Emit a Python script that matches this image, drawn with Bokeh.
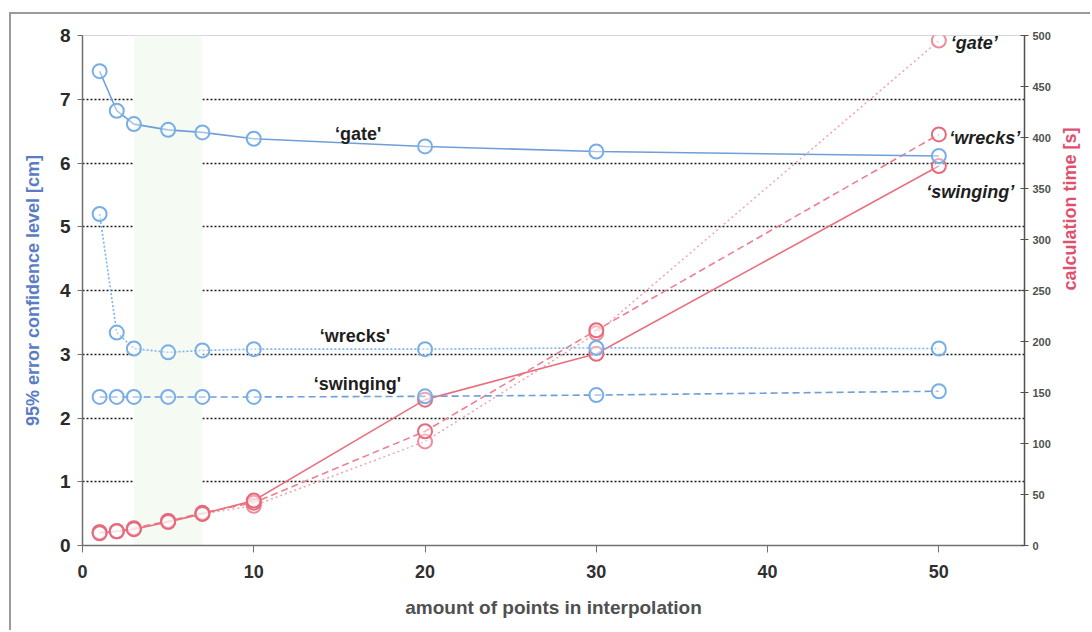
import math
from bokeh.plotting import figure
from bokeh.models import LinearAxis, Range1d, FixedTicker, BoxAnnotation, Label, Grid
from bokeh.embed import file_html
from bokeh.resources import INLINE

# ---- data ----
x_points = [1, 2, 3, 5, 7, 10, 20, 30, 50]
err_gate = [7.44, 6.82, 6.61, 6.52, 6.48, 6.38, 6.26, 6.18, 6.11]
err_wrecks = [5.20, 3.34, 3.09, 3.03, 3.06, 3.08, 3.08, 3.10, 3.09]
err_swinging = [2.33, 2.33, 2.33, 2.33, 2.33, 2.33, 2.34, 2.36, 2.42]
time_gate = [13, 14, 16, 24, 31, 39, 102, 208, 495]
time_wrecks = [13, 14, 17, 24, 32, 42, 112, 211, 403]
time_swinging = [12, 14, 16, 23, 31, 44, 143, 188, 372]

x_ticks = [0, 10, 20, 30, 40, 50]
err_ticks = [0, 1, 2, 3, 4, 5, 6, 7, 8]
time_ticks = [0, 50, 100, 150, 200, 250, 300, 350, 400, 450, 500]
grid_levels = [1, 2, 3, 4, 5, 6, 7]
band = (3, 7)

FONT = "Liberation Sans"
BLUE_LINE = "#6f9fd8"
BLUE_MARK = "#78aee6"
RED_LINE = "#e8707f"
RED_DASH = "#ec8090"
RED_DOT = "#f0a2ae"
RED_MARK = "#e66a7c"

p = figure(width=1081, height=618, output_backend="svg", toolbar_location=None,
           x_range=Range1d(0, 55), y_range=Range1d(0, 8),
           min_border_left=71, min_border_top=21, min_border_right=65, min_border_bottom=87)
p.styles = {"margin-left": "9px", "margin-top": "12px",
            "border-left": "2px solid #9a9a9a", "border-top": "2px solid #9a9a9a"}
p.outline_line_color = "#d6d6d6"
p.background_fill_color = "white"
p.border_fill_color = "white"

p.extra_y_ranges = {"time": Range1d(0, 500)}

# grid
p.xgrid.visible = False
p.ygrid.visible = False
g = Grid(dimension=1, ticker=FixedTicker(ticks=grid_levels), grid_line_color="#1a1a1a",
         grid_line_dash="2 2", grid_line_width=1.3)
p.add_layout(g)

# green band
p.add_layout(BoxAnnotation(left=band[0], right=band[1], fill_color="#f5faf2", fill_alpha=1,
                           line_color=None, level="underlay"))

# x axis
xa = p.xaxis[0]
xa.ticker = FixedTicker(ticks=x_ticks)
xa.axis_label = "amount of points in interpolation"
xa.axis_label_text_font = FONT
xa.axis_label_text_font_style = "bold"
xa.axis_label_text_font_size = "19px"
xa.axis_label_text_color = "#505050"
xa.axis_label_standoff = 16
xa.major_label_text_font = FONT
xa.major_label_text_font_style = "bold"
xa.major_label_text_font_size = "18px"
xa.major_label_text_color = "#303030"
xa.major_label_standoff = 12
xa.major_tick_out = 7
xa.major_tick_in = 0
xa.minor_tick_out = 0
xa.minor_tick_in = 0
xa.axis_line_color = "#707070"
xa.axis_line_width = 1.5
xa.major_tick_line_color = "#707070"

# left y axis
ya = p.yaxis[0]
ya.ticker = FixedTicker(ticks=err_ticks)
ya.axis_label = "95% error confidence level [cm]"
ya.axis_label_text_font = FONT
ya.axis_label_text_font_style = "bold"
ya.axis_label_text_font_size = "18px"
ya.axis_label_text_color = "#5a7cc4"
ya.axis_label_standoff = 14
ya.major_label_text_font = FONT
ya.major_label_text_font_style = "bold"
ya.major_label_text_font_size = "19px"
ya.major_label_text_color = "#2a2a2a"
ya.major_label_standoff = 7
ya.major_tick_out = 5
ya.major_tick_in = 0
ya.minor_tick_out = 0
ya.minor_tick_in = 0
ya.axis_line_color = "#707070"
ya.axis_line_width = 1.5
ya.major_tick_line_color = "#707070"

# right y axis
ra = LinearAxis(y_range_name="time", ticker=FixedTicker(ticks=time_ticks))
ra.axis_label = "calculation time [s]"
ra.axis_label_text_font = FONT
ra.axis_label_text_font_style = "bold"
ra.axis_label_text_font_size = "18px"
ra.axis_label_text_color = "#e0506e"
ra.axis_label_standoff = 16
try:
    ra.axis_label_orientation = math.pi / 2
except Exception:
    pass
ra.major_label_text_font = FONT
ra.major_label_text_font_style = "bold"
ra.major_label_text_font_size = "11px"
ra.major_label_text_color = "#505050"
ra.major_label_standoff = 4
ra.major_tick_out = 4
ra.major_tick_in = 4
ra.minor_tick_out = 0
ra.minor_tick_in = 0
ra.axis_line_color = "#505050"
ra.axis_line_width = 1.5
ra.major_tick_line_color = "#505050"
p.add_layout(ra, "right")

# red series (time)
p.line(x_points, time_gate, y_range_name="time", line_color=RED_DOT, line_width=1.5, line_dash="2 3")
p.line(x_points, time_wrecks, y_range_name="time", line_color=RED_DASH, line_width=1.6, line_dash="7 4")
p.line(x_points, time_swinging, y_range_name="time", line_color=RED_LINE, line_width=1.6)
for ys, col in ((time_gate, "#ee8c9a"), (time_wrecks, RED_MARK), (time_swinging, RED_MARK)):
    p.scatter(x_points, ys, y_range_name="time", marker="circle", size=14,
              line_color=col, line_width=2, fill_color="white", fill_alpha=0.4)

# blue series (error)
p.line(x_points, err_gate, line_color=BLUE_LINE, line_width=1.6)
p.line(x_points, err_wrecks, line_color="#7ab2ee", line_width=1.6, line_dash="2 2")
p.line(x_points, err_swinging, line_color=BLUE_LINE, line_width=1.6, line_dash="7 4")
for ys in (err_gate, err_wrecks, err_swinging):
    p.scatter(x_points, ys, marker="circle", size=14, line_color=BLUE_MARK, line_width=2,
              fill_color="white", fill_alpha=0.4)

# annotations (error series, left axis)
for txt, lx, ly in (("\u2018gate'", 16.1, 6.46), ("\u2018wrecks'", 15.9, 3.29), ("\u2018swinging'", 16.05, 2.54)):
    p.add_layout(Label(x=lx, y=ly, text=txt, text_font=FONT, text_font_size="18px",
                       text_font_style="bold", text_color="#1e1e1e",
                       text_align="center", text_baseline="middle"))

# annotations (time series, right side)
for txt, lx, ly, al in (("\u2018gate\u2019", 50.7, 7.89, "left"), ("\u2018wrecks\u2019", 50.6, 6.40, "left"),
                        ("\u2018swinging\u2019", 54.4, 5.54, "right")):
    p.add_layout(Label(x=lx, y=ly, text=txt, text_font=FONT, text_font_size="18px",
                       text_font_style="bold italic", text_color="#1e1e1e",
                       text_align=al, text_baseline="middle"))

open("out.html", "w").write(file_html(p, INLINE))
